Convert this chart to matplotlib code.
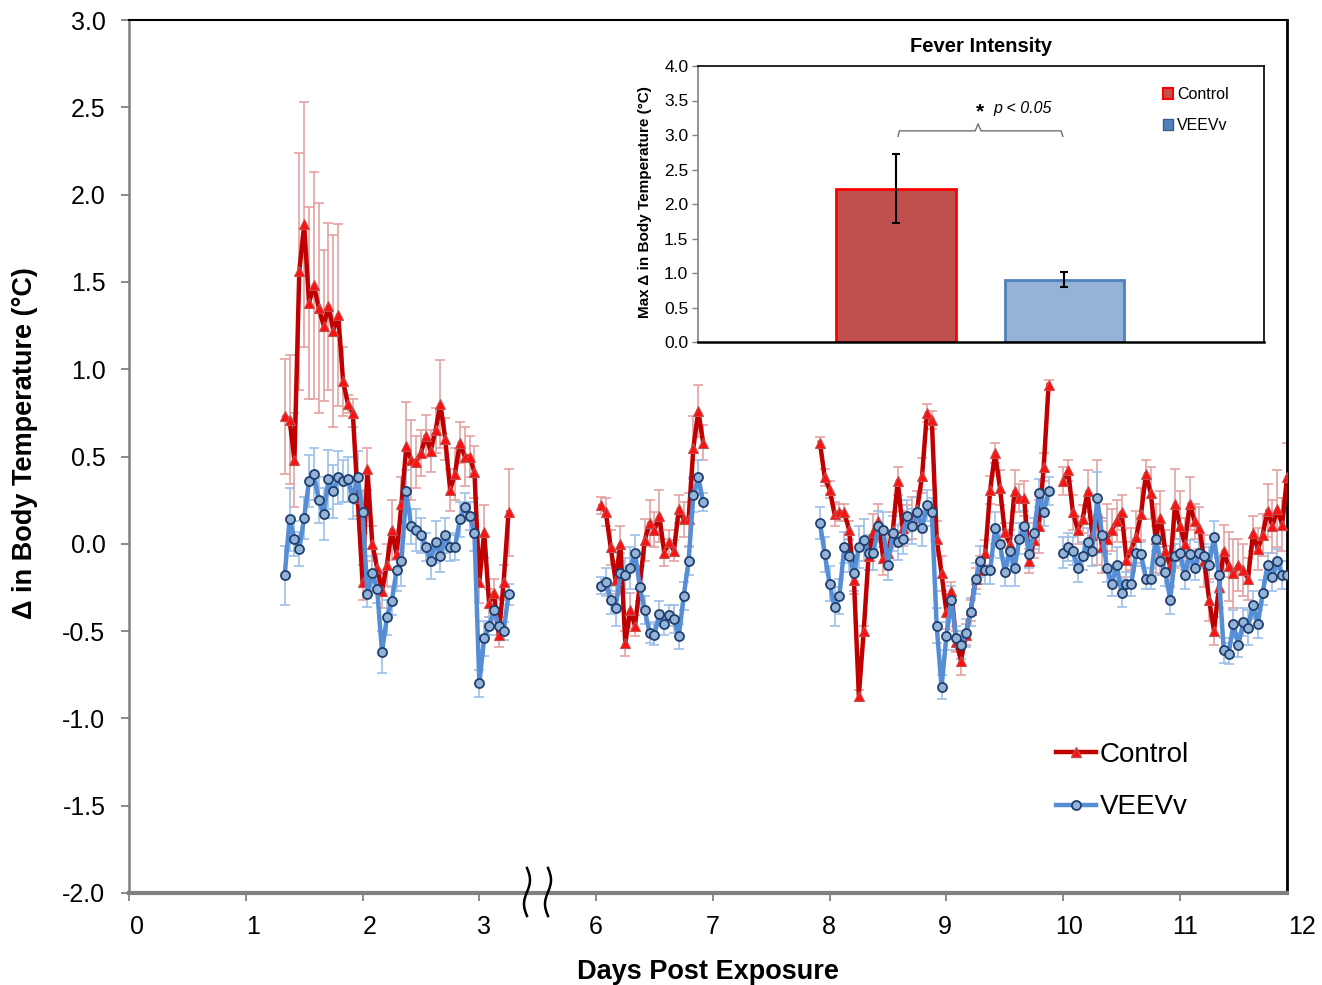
import numpy as np
import matplotlib
matplotlib.use('Agg')
import matplotlib.pyplot as plt
from matplotlib.lines import Line2D
from matplotlib.patches import Patch
import matplotlib.transforms as mtransforms

plt.rcParams['font.family'] = ['Liberation Sans', 'DejaVu Sans']
plt.rcParams['axes.unicode_minus'] = False

# ---------------- data (hourly means, Δ body temperature °C) ----------------
seg_start_hours = [32, 145, 190, 240]

ctrl1 = [0.73, 0.71, 0.48, 1.56, 1.83, 1.38, 1.48, 1.35, 1.25, 1.36,
         1.22, 1.31, 0.93, 0.80, 0.75, 0.26, -0.22, 0.43, 0.00, -0.14,
         -0.27, -0.12, 0.08, -0.06, 0.23, 0.56, 0.48, 0.47, 0.52, 0.62,
         0.53, 0.65, 0.80, 0.60, 0.31, 0.40, 0.58, 0.50, 0.50, 0.41,
         -0.22, 0.07, -0.34, -0.28, -0.52, -0.22, 0.18]
veev1 = [-0.18, 0.14, 0.03, -0.03, 0.15, 0.36, 0.40, 0.25, 0.17, 0.37,
         0.30, 0.38, 0.36, 0.37, 0.26, 0.38, 0.18, -0.29, -0.17, -0.26,
         -0.62, -0.42, -0.33, -0.15, -0.10, 0.30, 0.10, 0.08, 0.05, -0.02,
         -0.10, 0.01, -0.07, 0.05, -0.02, -0.02, 0.14, 0.21, 0.16, 0.06,
         -0.80, -0.54, -0.47, -0.38, -0.47, -0.50, -0.29]
ctrl_err1 = [0.33, 0.37, 0.27, 0.68, 0.70, 0.55, 0.65, 0.60, 0.43, 0.48,
             0.55, 0.52, 0.20, 0.05, 0.08, 0.10, 0.10, 0.12, 0.10, 0.08,
             0.10, 0.12, 0.17, 0.10, 0.15, 0.25, 0.23, 0.15, 0.13, 0.12,
             0.12, 0.13, 0.25, 0.12, 0.12, 0.15, 0.12, 0.17, 0.12, 0.15,
             0.12, 0.15, 0.08, 0.08, 0.07, 0.10, 0.25]
veev_err1 = [0.17, 0.18, 0.10, 0.10, 0.12, 0.15, 0.15, 0.13, 0.15, 0.17,
             0.15, 0.15, 0.12, 0.13, 0.12, 0.15, 0.12, 0.07, 0.10, 0.08,
             0.12, 0.10, 0.08, 0.12, 0.14, 0.12, 0.10, 0.12, 0.10, 0.08,
             0.10, 0.12, 0.09, 0.10, 0.08, 0.07, 0.10, 0.08, 0.08, 0.10,
             0.08, 0.10, 0.05, 0.06, 0.05, 0.05, 0.06]

ctrl2 = [0.22, 0.18, -0.02, -0.21, 0.00, -0.57, -0.38, -0.47, -0.23, 0.02,
         0.12, 0.08, 0.16, -0.05, 0.01, -0.04, 0.20, 0.14, 0.14, 0.55,
         0.76, 0.58]
veev2 = [-0.24, -0.22, -0.32, -0.37, -0.17, -0.18, -0.14, -0.05, -0.25, -0.38,
         -0.51, -0.52, -0.40, -0.46, -0.41, -0.43, -0.53, -0.30, -0.10, 0.28,
         0.38, 0.24]
ctrl_err2 = [0.05, 0.08, 0.10, 0.08, 0.10, 0.07, 0.10, 0.06, 0.10, 0.12,
             0.13, 0.10, 0.15, 0.08, 0.07, 0.06, 0.08, 0.10, 0.15, 0.18,
             0.15, 0.10]
veev_err2 = [0.05, 0.08, 0.08, 0.10, 0.12, 0.10, 0.12, 0.10, 0.12, 0.08,
             0.06, 0.06, 0.07, 0.06, 0.06, 0.08, 0.07, 0.08, 0.08, 0.10,
             0.10, 0.05]

ctrl3 = [0.58, 0.38, 0.31, 0.17, 0.18, 0.18, 0.08, -0.21, -0.87, -0.50,
         -0.07, 0.07, 0.13, -0.08, -0.05, 0.08, 0.36, 0.09, 0.12, 0.15,
         0.20, 0.39, 0.75, 0.71, 0.03, -0.17, -0.39, -0.27, -0.56, -0.67,
         -0.52, -0.38, -0.20, -0.15, -0.05, 0.31, 0.52, 0.32, 0.07, 0.00,
         0.30, 0.26, 0.26, -0.10, 0.02, 0.10, 0.44, 0.91]
veev3 = [0.12, -0.06, -0.23, -0.36, -0.30, -0.02, -0.07, -0.17, -0.02, 0.02,
         -0.05, -0.05, 0.10, 0.08, -0.12, 0.06, 0.01, 0.03, 0.16, 0.10,
         0.18, 0.09, 0.22, 0.18, -0.47, -0.82, -0.53, -0.32, -0.54, -0.58,
         -0.51, -0.39, -0.20, -0.10, -0.15, -0.15, 0.09, 0.00, -0.16, -0.04,
         -0.14, 0.03, 0.10, -0.06, 0.06, 0.29, 0.18, 0.30]
ctrl_err3 = [0.03, 0.05, 0.05, 0.07, 0.05, 0.05, 0.05, 0.08, 0.03, 0.03,
             0.08, 0.10, 0.10, 0.10, 0.10, 0.10, 0.08, 0.10, 0.10, 0.12,
             0.10, 0.10, 0.05, 0.05, 0.10, 0.10, 0.10, 0.05, 0.06, 0.08,
             0.06, 0.06, 0.06, 0.08, 0.07, 0.08, 0.06, 0.10, 0.05, 0.08,
             0.12, 0.08, 0.10, 0.07, 0.10, 0.15, 0.08, 0.03]
veev_err3 = [0.09, 0.10, 0.10, 0.11, 0.10, 0.09, 0.09, 0.10, 0.12, 0.12,
             0.10, 0.10, 0.09, 0.10, 0.09, 0.10, 0.10, 0.09, 0.09, 0.10,
             0.09, 0.10, 0.09, 0.08, 0.10, 0.07, 0.08, 0.08, 0.07, 0.08,
             0.08, 0.08, 0.09, 0.09, 0.08, 0.08, 0.09, 0.08, 0.08, 0.09,
             0.10, 0.09, 0.09, 0.08, 0.09, 0.08, 0.08, 0.08]

ctrl4 = [0.36, 0.42, 0.18, 0.08, 0.14, 0.30, 0.05, 0.18, -0.02, 0.03,
         0.08, 0.13, 0.18, -0.09, -0.03, 0.04, 0.17, 0.40, 0.29, 0.03,
         0.15, -0.04, -0.13, 0.23, 0.10, 0.00, 0.23, 0.13, 0.09, -0.10,
         -0.32, -0.50, -0.25, -0.04, -0.13, -0.17, -0.12, -0.15, -0.20, 0.06,
         -0.03, 0.05, 0.19, 0.10, 0.20, 0.11, 0.38]
veev4 = [-0.05, -0.02, -0.04, -0.14, -0.07, 0.01, -0.04, 0.26, 0.05, -0.14,
         -0.23, -0.12, -0.28, -0.23, -0.23, -0.05, -0.06, -0.20, -0.20, 0.03,
         -0.10, -0.16, -0.32, -0.07, -0.05, -0.18, -0.06, -0.14, -0.05, -0.07,
         -0.12, 0.04, -0.18, -0.61, -0.63, -0.46, -0.58, -0.45, -0.48, -0.35,
         -0.46, -0.28, -0.12, -0.19, -0.10, -0.18, -0.18]
ctrl_err4 = [0.08, 0.06, 0.10, 0.08, 0.08, 0.12, 0.10, 0.30, 0.15, 0.20,
             0.12, 0.12, 0.10, 0.10, 0.12, 0.15, 0.15, 0.08, 0.15, 0.20,
             0.15, 0.12, 0.12, 0.20, 0.20, 0.15, 0.15, 0.10, 0.12, 0.15,
             0.12, 0.08, 0.12, 0.15, 0.20, 0.20, 0.15, 0.15, 0.12, 0.10,
             0.12, 0.12, 0.15, 0.15, 0.22, 0.15, 0.20]
veev_err4 = [0.09, 0.08, 0.08, 0.08, 0.08, 0.08, 0.09, 0.15, 0.10, 0.08,
             0.07, 0.10, 0.08, 0.07, 0.07, 0.08, 0.07, 0.06, 0.06, 0.07,
             0.08, 0.08, 0.08, 0.07, 0.08, 0.08, 0.08, 0.07, 0.06, 0.07,
             0.10, 0.09, 0.10, 0.07, 0.06, 0.08, 0.07, 0.08, 0.10, 0.08,
             0.08, 0.07, 0.07, 0.08, 0.07, 0.08, 0.08]

ctrl_segs = [ctrl1, ctrl2, ctrl3, ctrl4]
veev_segs = [veev1, veev2, veev3, veev4]
ctrl_err_segs = [ctrl_err1, ctrl_err2, ctrl_err3, ctrl_err4]
veev_err_segs = [veev_err1, veev_err2, veev_err3, veev_err4]

x_tick_labels = ['0', '1', '2', '3', '6', '7', '8', '9', '10', '11', '12']

# inset data
bar_groups = ['Control', 'VEEVv']
bar_means = [2.22, 0.90]
bar_errs = [0.50, 0.11]

# ---------------- styles ----------------
RED_LINE = '#C00000'
RED_MFC = '#FF1010'
RED_ERR = '#E4A3A3'
BLUE_LINE = '#558ED5'
BLUE_MFC = '#95B3D7'
BLUE_MEC = '#1F3F6E'
BLUE_ERR = '#9DBFE8'

W, H = 1322, 985
fig = plt.figure(figsize=(W / 100, H / 100), dpi=100)
fig.patch.set_facecolor('white')

L, R, T, B = 129, 1287, 20, 893
ax = fig.add_axes([L / W, 1 - B / H, (R - L) / W, (B - T) / H])


def hour_to_pos(h):
    d = np.asarray(h, dtype=float) / 24.0
    return np.where(d > 4.5, d - 2.0, d)   # axis break: days 4-5 removed


for start, c, v, ce, ve in zip(seg_start_hours, ctrl_segs, veev_segs,
                                ctrl_err_segs, veev_err_segs):
    hrs = np.arange(start, start + len(c))
    xp = hour_to_pos(hrs)
    ax.errorbar(xp, c, yerr=ce, fmt='none', ecolor=RED_ERR, elinewidth=1.2,
                capsize=3.5, capthick=1.2, zorder=2)
    ax.errorbar(xp, v, yerr=ve, fmt='none', ecolor=BLUE_ERR, elinewidth=1.2,
                capsize=3.5, capthick=1.2, zorder=2)
    ax.plot(xp, c, color=RED_LINE, lw=3.2, marker='^', ms=7, mfc=RED_MFC,
            mec='#C0504D', mew=0.8, zorder=3)
    ax.plot(xp, v, color=BLUE_LINE, lw=3.2, marker='o', ms=6.5, mfc=BLUE_MFC,
            mec=BLUE_MEC, mew=1.3, zorder=4)

last_pos = float(hour_to_pos(seg_start_hours[-1] + len(ctrl4) - 1))
ax.set_xlim(0, last_pos)
ax.set_ylim(-2.0, 3.0)
ax.set_yticks(np.arange(-2.0, 3.01, 0.5))
ax.set_yticklabels([f'{v:.1f}' for v in np.arange(-2.0, 3.01, 0.5)])
ax.set_xticks(range(10))
ax.set_xticklabels(x_tick_labels[:10])

ax.tick_params(axis='both', direction='out', length=6, width=1.3, color='#808080',
               labelsize=18)
ax.tick_params(axis='x', pad=10)
ax.tick_params(axis='y', pad=11)

# nudge x tick labels (as placed in the original)
x_offsets_px = [8, 7, 7, 5, 0, 0, -1, -2, 6, 5]
for lbl, dx in zip(ax.get_xticklabels(), x_offsets_px):
    lbl.set_transform(lbl.get_transform() +
                      mtransforms.ScaledTranslation(dx / 100, 0, fig.dpi_scale_trans))
ax.annotate(x_tick_labels[10], xy=(10, 0),
            xycoords=mtransforms.blended_transform_factory(ax.transData, ax.transAxes),
            xytext=(5 / 100 * 72, -(6 + 10)), textcoords='offset points',
            ha='center', va='top', fontsize=18, annotation_clip=False)

ax.spines['left'].set_color('#808080')
ax.spines['left'].set_linewidth(1.8)
ax.spines['bottom'].set_color('#808080')
ax.spines['bottom'].set_linewidth(3)
ax.spines['right'].set_color('black')
ax.spines['right'].set_linewidth(2)
ax.spines['top'].set_color('black')
ax.spines['top'].set_linewidth(1.5)

ax.set_xlabel('Days Post Exposure', fontsize=19.5, fontweight='bold', labelpad=14)
ax.set_ylabel('\u0394 in Body Temperature (\u00b0C)', fontsize=19.5, fontweight='bold')
ax.yaxis.set_label_coords((38 - L) / (R - L), (B - 443) / (B - T))

# axis-break marks
for x0 in (527, 548):
    t = np.linspace(0, 1, 60)
    ys = 868 + 48 * t
    xs = x0 + 3.0 * np.sin(2 * np.pi * t)
    fig.add_artist(Line2D(xs / W, 1 - ys / H, transform=fig.transFigure,
                          color='black', lw=1.8, zorder=10))

# main legend
handles = [Line2D([], [], color=RED_LINE, lw=3.2, marker='^', ms=7, mfc=RED_MFC, mec='#C0504D'),
           Line2D([], [], color=BLUE_LINE, lw=3.2, marker='o', ms=6.5, mfc=BLUE_MFC, mec=BLUE_MEC, mew=1.3)]
fig.legend(handles, ['Control', 'VEEVv'], loc='upper left',
           bbox_to_anchor=(1056 / W, 1 - 742 / H), frameon=False,
           fontsize=20, handlelength=1.45, handletextpad=0.12, labelspacing=0.95,
           borderaxespad=0, borderpad=0)

# ---------------- inset ----------------
IL, IR, IT, IB = 698, 1264, 66, 342
axi = fig.add_axes([IL / W, 1 - IB / H, (IR - IL) / W, (IB - IT) / H])
xb = [1, 2]
axi.bar(xb, bar_means, width=0.712, color=['#C0504D', '#95B3D7'],
        edgecolor=['#FF0000', '#4F81BD'], linewidth=2, zorder=2)
axi.errorbar(xb, bar_means, yerr=bar_errs, fmt='none', ecolor='black',
             elinewidth=1.5, capsize=3, capthick=1.5, zorder=3)
axi.set_xlim(-0.175, 3.184)
axi.set_ylim(0, 4)
axi.set_yticks(np.arange(0, 4.01, 0.5))
axi.set_yticklabels([f'{v:.1f}' for v in np.arange(0, 4.01, 0.5)])
axi.set_xticks([])
axi.tick_params(axis='y', direction='out', length=4, width=1, color='#808080',
                labelsize=12.5, pad=3)
for s in ['top', 'right']:
    axi.spines[s].set_color('black')
    axi.spines[s].set_linewidth(1.2)
axi.spines['left'].set_color('#808080')
axi.spines['left'].set_linewidth(1.2)
axi.spines['bottom'].set_color('black')
axi.spines['bottom'].set_linewidth(1.8)
axi.set_title('Fever Intensity', fontsize=14.5, fontweight='bold', pad=10)
axi.set_ylabel('Max \u0394 in Body Temperature (\u00b0C)', fontsize=11,
               fontweight='bold')
axi.yaxis.set_label_coords((652 - IL) / (IR - IL), (IB - 202) / (IB - IT))

# significance bracket
bx = [1.012, 1.02, 1.47, 1.487, 1.505, 1.98, 1.99]
by = [2.98, 3.06, 3.06, 3.16, 3.06, 3.06, 2.98]
axi.plot(bx, by, color='#707070', lw=1.0, zorder=3)
axi.text(1.50, 3.33, '*', fontsize=15, fontweight='bold', ha='center', va='center')
axi.text(1.58, 3.38, 'p < 0.05', fontsize=11.5, style='italic', ha='left', va='center')

ihandles = [Patch(facecolor='#C0504D', edgecolor='#FF0000', linewidth=1.5),
            Patch(facecolor='#4F81BD', edgecolor='#385D8A', linewidth=1.0)]
fig.legend(ihandles, bar_groups, loc='upper left', bbox_to_anchor=(1163 / W, 1 - 87 / H),
           frameon=False, fontsize=11.5, handlelength=0.65, handleheight=0.65,
           handletextpad=0.25, labelspacing=1.0, borderaxespad=0, borderpad=0)

fig.savefig('out.png', dpi=100, facecolor='white')
